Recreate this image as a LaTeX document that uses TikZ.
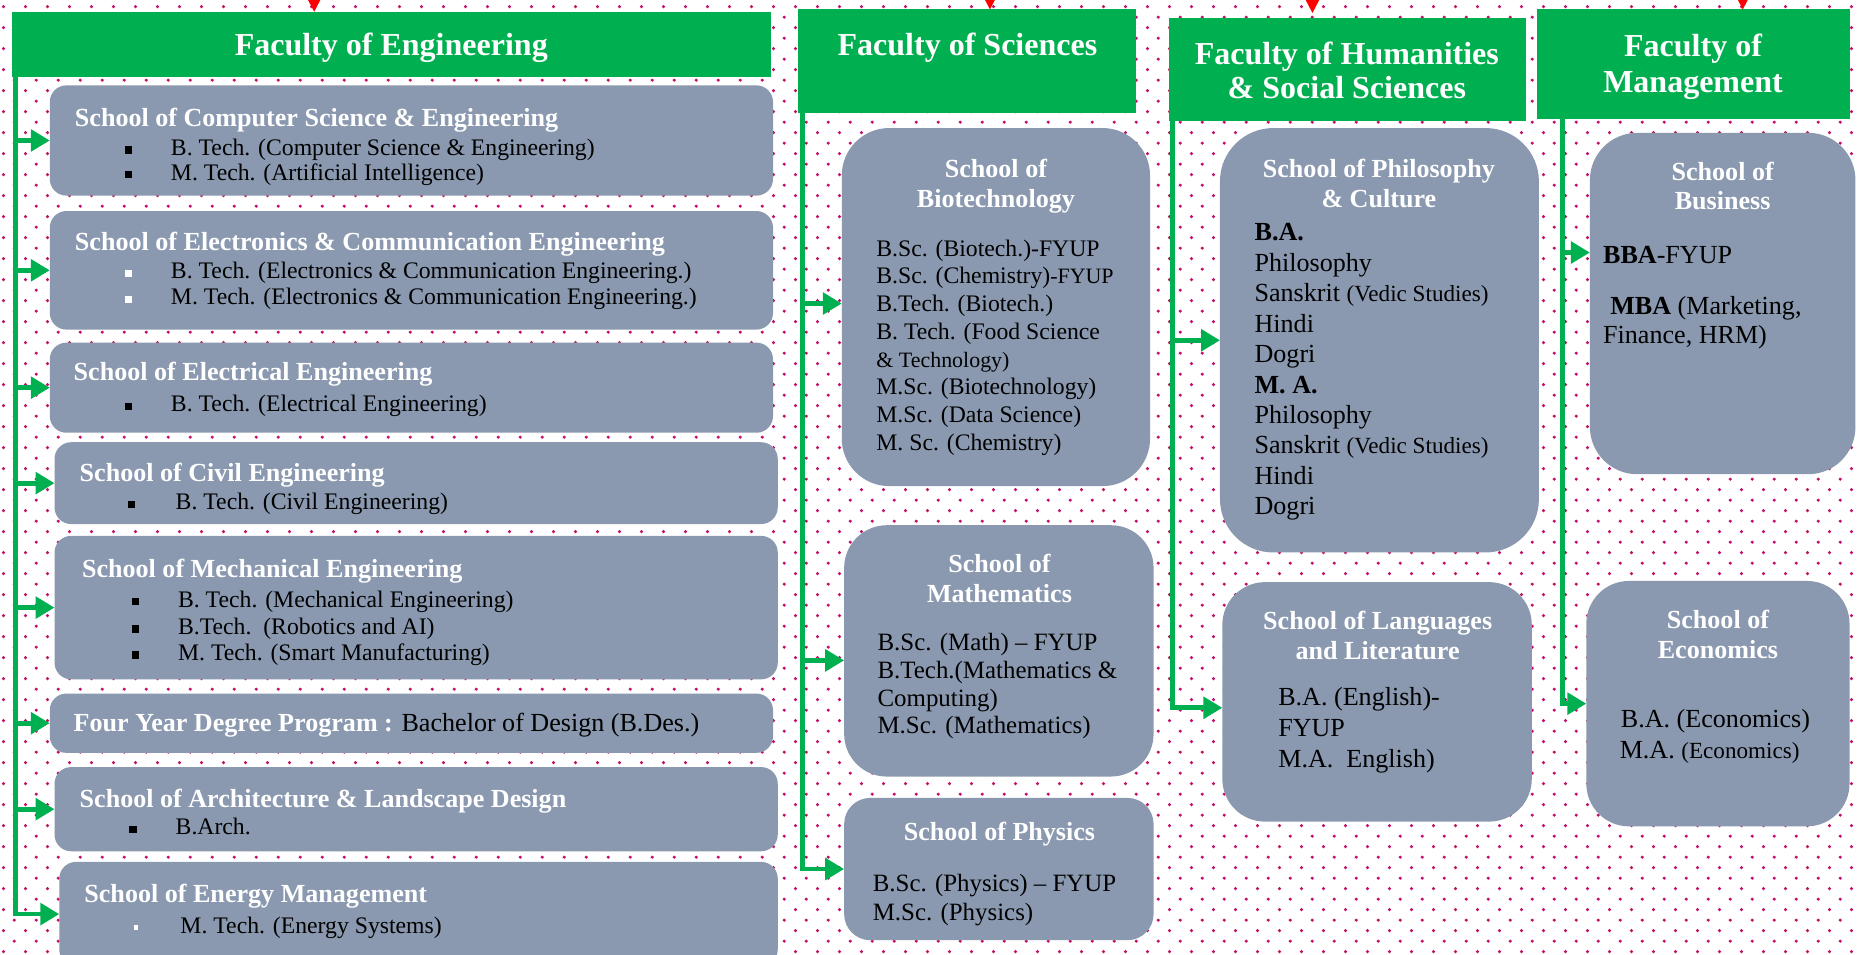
\documentclass[tikz,border=0pt]{standalone}
\usepackage{fontspec}
\setmainfont{Liberation Serif}
\usetikzlibrary{arrows.meta,fit,calc,patterns}
\definecolor{fgreen}{RGB}{0,176,80}
\definecolor{sgray}{RGB}{138,153,176}
\definecolor{dotc}{RGB}{196,16,104}
\newcommand{\myfs}[2]{\fontsize{#1}{#2}\selectfont}
\newcommand{\mybul}[1][black]{\textcolor{#1}{\raisebox{1.5pt}{\rule{6pt}{6pt}}}}
\newcommand{\mysbul}{\textcolor{white}{\raisebox{3pt}{\rule{3.5pt}{3.5pt}}}}
\pgfdeclarepatternformonly{mydots}{\pgfpointorigin}{\pgfpoint{18.3pt}{18pt}}{\pgfpoint{18.3pt}{18pt}}{%
  \pgfpathcircle{\pgfpoint{3pt}{3pt}}{1.5pt}%
  \pgfpathcircle{\pgfpoint{12.15pt}{12pt}}{1.5pt}%
  \pgfusepath{fill}%
}
\begin{document}
\begin{tikzpicture}[x=1pt,y=-1pt,
  fac/.style={fill=fgreen, inner sep=0pt, outer sep=0pt},
  school/.style={fill=sgray, inner sep=0pt, outer sep=0pt, rounded corners=#1},
  school/.default=14pt,
  facttl/.style={text=white, font=\bfseries\myfs{27}{31}, inner sep=0pt, anchor=base},
  ttl/.style={text=white, font=\bfseries\myfs{22}{25}, inner sep=0pt, anchor=base west},
  cttl/.style={ttl, anchor=base},
  itm/.style={text=black, font=\myfs{#1}{#1}, inner sep=0pt, anchor=base west},
  itm/.default=20,
  conn/.style={draw=fgreen, line width=4pt, -{Triangle[length=16pt,width=18pt]}},
  redarr/.style={draw=red, line width=1.5pt, -{Triangle[length=11pt,width=11pt]}},
]
\useasboundingbox (0,0) rectangle (1568,805);
\clip (0,0) rectangle (1568,805);
\fill[white] (0,0) rectangle (1568,805);
% dotted background
\fill[pattern=mydots, pattern color=dotc] (0,0) rectangle (1568,805);
% ---------------- Faculty headers
\node[fac, fit={(10,10)(650,65)}] (eng) {};
\node[fac, fit={(673,8)(958,95)}] (sci) {};
\node[fac, fit={(986,15)(1287,102)}] (hum) {};
\node[fac, fit={(1296,8)(1560,100)}] (mgt) {};
\node[facttl] (engt) at (330,47) {Faculty of Engineering};
\node[facttl] (scit) at (816,47) {Faculty of Sciences};
\node[facttl] (humt1) at (1136,54) {Faculty of Humanities};
\node[facttl] (humt2) at (1136,83) {\& Social Sciences};
\node[facttl] (mgtt1) at (1428,48) {Faculty of};
\node[facttl] (mgtt2) at (1428,78) {Management};
% red arrows from above
\coordinate (r1) at (265,-25);
\coordinate (r2) at (835,-25);
\coordinate (r3) at (1107,-25);
\coordinate (r4) at (1470,-25);
\draw[redarr] (r1) -- (r1 |- eng.north);
\draw[redarr] (r2) -- (r2 |- sci.north);
\draw[redarr] (r3) -- ([yshift=4pt]r3 |- hum.north);
\draw[redarr] (r4) -- (r4 |- mgt.north);
% ---------------- Engineering schools
\node[school, fit={(42,72)(652,165)}] (cse) {};
\node[school, fit={(42,178)(652,278)}] (ece) {};
\node[school, fit={(42,289)(652,365)}] (elec) {};
\node[school, fit={(46,373)(656,442)}] (civ) {};
\node[school, fit={(46,452)(656,573)}] (mech) {};
\node[school, fit={(42,585)(652,635)}] (bdes) {};
\node[school, fit={(46,647)(656,718)}] (arch) {};
\node[school, fit={(50,727)(656,815)}] (ener) {};

\node[ttl] (cset) at (63,107) {School of Computer Science \& Engineering};
\node[itm] (cse1) at (105,131) {\makebox[39pt][l]{\mybul}B. Tech. (Computer Science \& Engineering)};
\node[itm] (cse2) at (105,152) {\makebox[39pt][l]{\mybul}M. Tech. (Artificial Intelligence)};

\node[ttl] (ecet) at (63,211) {School of Electronics \& Communication Engineering};
\node[itm] (ece1) at (105,235) {\makebox[39pt][l]{\mybul[white]}B. Tech. (Electronics \& Communication Engineering.)};
\node[itm] (ece2) at (105,257) {\makebox[39pt][l]{\mybul[white]}M. Tech. (Electronics \& Communication Engineering.)};

\node[ttl] (elect) at (62,321) {School of Electrical Engineering};
\node[itm] (elec1) at (105,347) {\makebox[39pt][l]{\mybul}B. Tech. (Electrical Engineering)};

\node[ttl] (civt) at (67,406) {School of Civil Engineering};
\node[itm] (civ1) at (108,430) {\makebox[40pt][l]{\mybul}B. Tech. (Civil Engineering)};

\node[ttl] (mecht) at (69,487) {School of Mechanical Engineering};
\node[itm] (mech1) at (111,512) {\makebox[39pt][l]{\mybul}B. Tech. (Mechanical Engineering)};
\node[itm] (mech2) at (111,535) {\makebox[39pt][l]{\mybul}B.Tech.\ \ (Robotics and AI)};
\node[itm] (mech3) at (111,557) {\makebox[39pt][l]{\mybul}M. Tech. (Smart Manufacturing)};

\node[ttl] (bdest) at (62,617) {Four Year Degree Program : \textcolor{black}{\mdseries Bachelor of Design (B.Des.)}};

\node[ttl] (archt) at (67,681) {School of Architecture \& Landscape Design};
\node[itm] (arch1) at (109,704) {\makebox[39pt][l]{\mybul}B.Arch.};

\node[ttl] (enert) at (71,761) {School of Energy Management};
\node[itm] (ener1) at (113,787) {\makebox[39pt][l]{\mysbul}M. Tech. (Energy Systems)};

\foreach \n in {cse,ece,elec,civ,mech,bdes,arch,ener}
  \draw[conn] ($(eng.south west)+(3,0)$) |- (\n.west);

% ---------------- Sciences
\node[school=40pt, fit={(710,108)(970,410)}] (bio) {};
\node[school=36pt, fit={(712,443)(973,655)}] (math) {};
\node[school=22pt, fit={(712,673)(973,793)}] (phy) {};

\node[cttl] (biot1) at (840,150) {School of};
\node[cttl] (biot2) at (840,175) {Biotechnology};
\foreach \t [count=\k from 0] in {{B.Sc. (Biotech.)-FYUP}, {B.Sc. (Chemistry){\myfs{18.5}{21}-FYUP}}, {B.Tech. (Biotech.)}, {B. Tech. (Food Science}, {{\myfs{18.5}{21}\& Technology)}}, {M.Sc. (Biotechnology)}, {M.Sc. (Data Science)}, {M. Sc. (Chemistry)}}
  \node[itm] (bio\k) at (739,{216+23.4*\k}) {\t};

\node[cttl] (matht1) at (843,483) {School of};
\node[cttl] (matht2) at (843,508) {Mathematics};
\foreach \t [count=\k from 0] in {{B.Sc. (Math) -- FYUP}, {B.Tech.(Mathematics \&}, {Computing)}, {M.Sc. (Mathematics)}}
  \node[itm=21] (math\k) at (740,{549+23.3*\k}) {\t};

\node[cttl] (phyt) at (843,709) {School of Physics};
\node[itm=21] (phy0) at (736,752) {B.Sc. (Physics) -- FYUP};
\node[itm=21] (phy1) at (736,776) {M.Sc. (Physics)};

\draw[conn] ($(sci.south west)+(4,0)$) |- ([yshift=3pt]bio.west);
\draw[conn] ($(sci.south west)+(4,0)$) |- ([yshift=-8pt]math.west);
\draw[conn] ($(sci.south west)+(4,0)$) |- (phy.west);

% ---------------- Humanities
\node[school=45pt, fit={(1029,108)(1298,466)}] (phil) {};
\node[school=36pt, fit={(1031,491)(1292,693)}] (lang) {};

\node[cttl] (philt1) at (1163,150) {School of Philosophy};
\node[cttl] (philt2) at (1163,175) {\& Culture};
\foreach \t [count=\k from 0] in {{\textbf{B.A.}}, {Philosophy}, {Sanskrit {\myfs{19.5}{22}(Vedic Studies)}}, {Hindi}, {Dogri}, {\textbf{M. A.}}, {Philosophy}, {Sanskrit {\myfs{19.5}{22}(Vedic Studies)}}, {Hindi}, {Dogri}}
  \node[itm=22] (phil\k) at (1058,{203+25.7*\k}) {\t};

\node[cttl] (langt1) at (1162,531) {School of Languages};
\node[cttl] (langt2) at (1162,556) {and Literature};
\node[itm=22] (lang0) at (1078,595) {B.A. (English)-};
\node[itm=22] (lang1) at (1078,621) {FYUP};
\node[itm=22] (lang2) at (1078,647) {M.A.\ \ English)};

\draw[conn] ($(hum.south west)+(3,0)$) |- (phil.west);
\draw[conn] ($(hum.south west)+(3,0)$) |- ([yshift=-5pt]lang.west);

% ---------------- Management
\node[school=40pt, fit={(1341,112)(1565,400)}] (bus) {};
\node[school=36pt, fit={(1338,490)(1560,697)}] (eco) {};

\node[cttl] (bust1) at (1453,152) {School of};
\node[cttl] (bust2) at (1453,177) {Business};
\node[itm=22] (bus0) at (1352,222) {\textbf{BBA}-FYUP};
\node[itm=22] (bus1) at (1358,265) {\textbf{MBA} (Marketing,};
\node[itm=22] (bus2) at (1352,290) {Finance, HRM)};

\node[cttl] (ecot1) at (1449,530) {School of};
\node[cttl] (ecot2) at (1449,555) {Economics};
\node[itm=22] (eco0) at (1367,614) {B.A. (Economics)};
\node[itm=22] (eco1) at (1366,640) {M.A. {\myfs{19.5}{22}(Economics)}};

\draw[conn] ($(mgt.south west)+(22,0)$) |- ([yshift=43pt]bus.west);
\draw[conn] ($(mgt.south west)+(22,0)$) |- (eco.west);
\end{tikzpicture}
\end{document}
